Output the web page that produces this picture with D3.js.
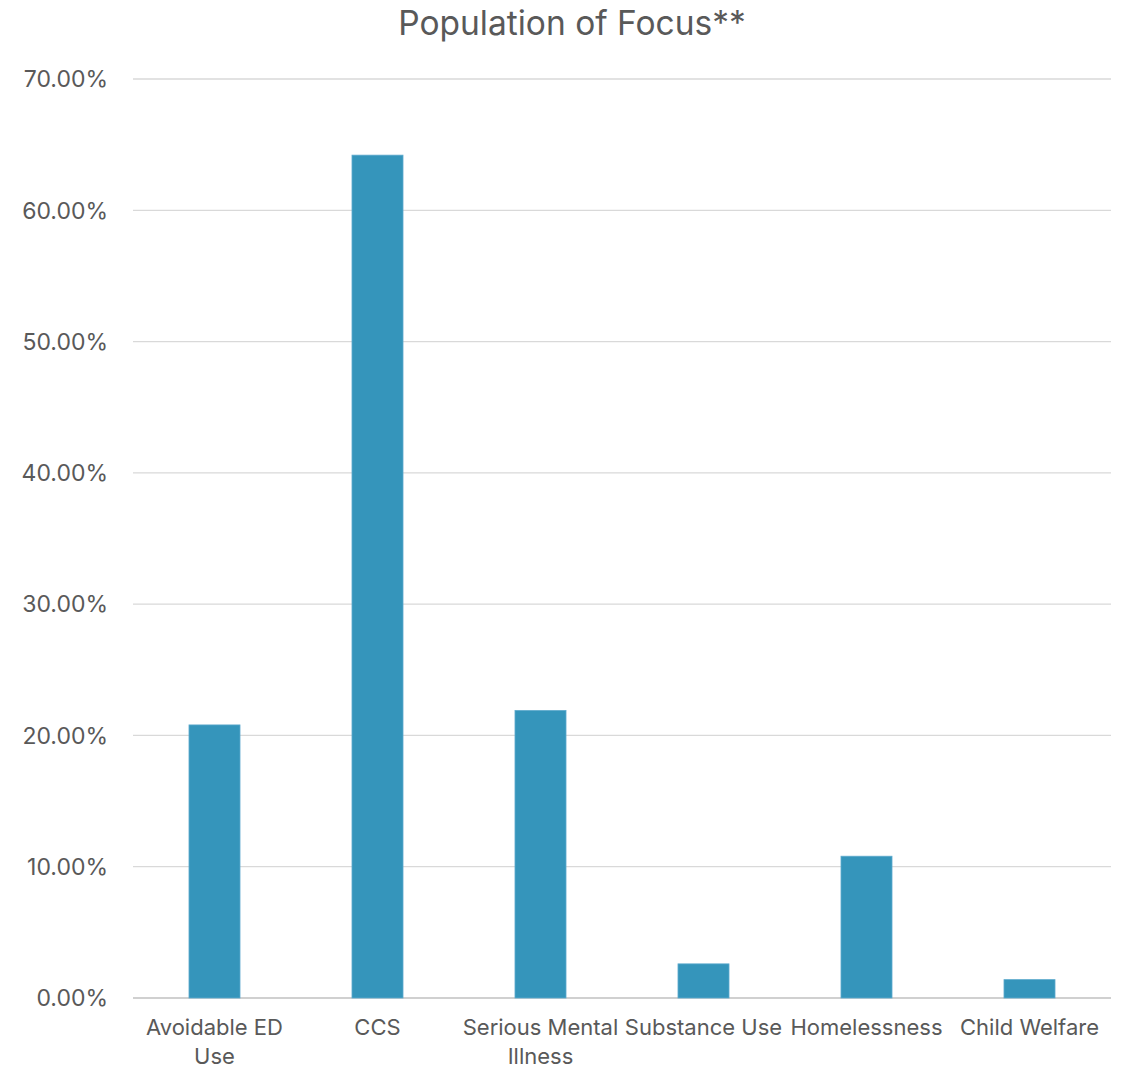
<!DOCTYPE html>
<html><head><meta charset="utf-8">
<script src="https://cdn.jsdelivr.net/npm/d3@7"></script>
<style>
html,body{margin:0;padding:0;background:#fff;}
svg text{font-family:"Inter","Noto Sans",sans-serif;fill:#595959;}
</style></head>
<body>
<svg id="chart" width="1123" height="1069"></svg>
<script>
const title = "Population of Focus**";
const categories = ["Avoidable ED Use","CCS","Serious Mental Illness","Substance Use","Homelessness","Child Welfare"];
const values = [0.208, 0.642, 0.219, 0.026, 0.108, 0.014];
const yTicks = [0,0.1,0.2,0.3,0.4,0.5,0.6,0.7];

const svg = d3.select("#chart");
const m = {left:133, right:12, top:79, bottom:71};
const W = 1123, H = 1069;
const x = d3.scaleBand().domain(categories).range([m.left, W-m.right]).paddingInner(0.687).paddingOuter(0.3435);
const y = d3.scaleLinear().domain([0,0.7]).range([H-m.bottom, m.top]);

svg.append("text").attr("x", 572).attr("y", 35).attr("text-anchor","middle")
  .style("font-size","33.5px").text(title);

// gridlines
svg.append("g").selectAll("line").data(yTicks).join("line")
  .attr("x1", m.left).attr("x2", W-m.right)
  .attr("y1", d=>y(d)).attr("y2", d=>y(d))
  .attr("stroke", d=> d===0 ? "#d0d0d0" : "#d9d9d9").attr("stroke-width", d=> d===0?2:1.3);

// y labels
const fmt = d3.format(".2%");
svg.append("g").selectAll("text").data(yTicks).join("text")
  .attr("x", 108).attr("y", d=>y(d)).attr("dy","0.36em").attr("text-anchor","end")
  .style("font-size","23px").text(d=>fmt(d));

// bars
svg.append("g").selectAll("rect").data(values).join("rect")
  .attr("x",(d,i)=>x(categories[i])).attr("width",x.bandwidth())
  .attr("y",d=>y(d)).attr("height",d=>y(0)-y(d))
  .attr("fill","#3595bb").attr("stroke","#5eaacd").attr("stroke-width",0.8);

// x labels with wrapping
const maxW = x.step();
const xl = svg.append("g");
categories.forEach(c=>{
  const t = xl.append("text").attr("x", x(c)+x.bandwidth()/2).attr("y", 1035)
    .attr("text-anchor","middle").style("font-size","22px");
  const words = c.split(" ");
  let line = [];
  let ts = t.append("tspan").attr("x", x(c)+x.bandwidth()/2).attr("dy", 0);
  words.forEach(w=>{
    line.push(w);
    ts.text(line.join(" "));
    if (ts.node().getComputedTextLength() > maxW && line.length>1){
      line.pop(); ts.text(line.join(" "));
      line=[w];
      ts = t.append("tspan").attr("x", x(c)+x.bandwidth()/2).attr("dy", "29px").text(w);
    }
  });
});
</script>
</body></html>
